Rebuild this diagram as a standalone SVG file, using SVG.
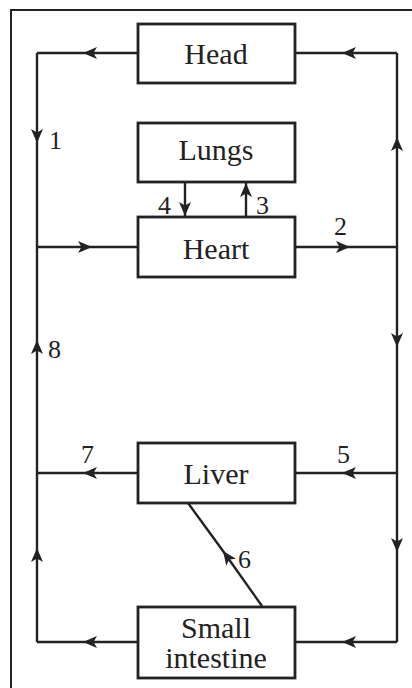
<svg xmlns="http://www.w3.org/2000/svg" width="412" height="688" viewBox="0 0 412 688">
<style>
.box{fill:#fff;stroke:#222;stroke-width:2.8}
.lbl{font-family:"Liberation Serif","DejaVu Serif",serif;font-size:30px;fill:#222;text-anchor:middle}
.num{font-family:"Liberation Serif","DejaVu Serif",serif;font-size:26px;fill:#222}
.ln{fill:none;stroke:#222;stroke-width:2.4;marker-mid:url(#ah)}
.le{fill:none;stroke:#222;stroke-width:2.4;marker-end:url(#ah)}
</style>
<defs>
<marker id="ah" viewBox="0 0 14 12" refX="14" refY="6" markerWidth="14" markerHeight="12" markerUnits="userSpaceOnUse" orient="auto">
<path d="M14,6 L0,0 L3.5,6 L0,12 z" fill="#222"/>
</marker>
</defs>
<rect width="412" height="688" fill="#fff"/>
<path d="M11,688 L11,10 L412,10" fill="none" stroke="#222" stroke-width="2"/>
<g id="connectors">
<path class="ln" d="M138,53 L83,53 L37,53"/>
<path class="ln" d="M37,53 L37,143 L37,247"/>
<path class="ln" d="M37,247 L92,247 L138,247"/>
<path class="ln" d="M37,473 L37,340 L37,247"/>
<path class="ln" d="M37,642 L37,548 L37,473"/>
<path class="ln" d="M138,473 L83,473 L37,473"/>
<path class="ln" d="M138,642 L83,642 L37,642"/>
<path class="ln" d="M295,247 L350,247 L397,247"/>
<path class="ln" d="M397,247 L397,137 L397,53"/>
<path class="ln" d="M397,53 L342,53 L295,53"/>
<path class="ln" d="M397,247 L397,347 L397,473"/>
<path class="ln" d="M397,473 L342,473 L295,473"/>
<path class="ln" d="M397,473 L397,552 L397,642"/>
<path class="ln" d="M397,642 L342,642 L295,642"/>
<path class="le" d="M185,182 L185,216"/>
<path class="le" d="M246,217 L246,183"/>
<path class="ln" d="M262,606 L223,551 L188,503"/>
</g>
<g id="head"><rect class="box" x="138" y="24" width="157" height="59"/><text class="lbl" x="216" y="64">Head</text></g>
<g id="lungs"><rect class="box" x="138" y="123" width="157" height="59"/><text class="lbl" x="216" y="160">Lungs</text></g>
<g id="heart"><rect class="box" x="138" y="217" width="157" height="60"/><text class="lbl" x="216" y="259">Heart</text></g>
<g id="liver"><rect class="box" x="138" y="443" width="157" height="60"/><text class="lbl" x="216" y="484">Liver</text></g>
<g id="small-intestine"><rect class="box" x="138" y="607" width="157" height="71"/><text class="lbl" x="216" y="638" font-size="29">Small</text><text class="lbl" x="216" y="668" font-size="29">intestine</text></g>
<g id="numbers">
<text class="num" x="49" y="149">1</text>
<text class="num" x="334" y="235">2</text>
<text class="num" x="256" y="214">3</text>
<text class="num" x="158" y="214">4</text>
<text class="num" x="337" y="463">5</text>
<text class="num" x="238" y="568">6</text>
<text class="num" x="81" y="463">7</text>
<text class="num" x="48" y="358">8</text>
</g>
</svg>
